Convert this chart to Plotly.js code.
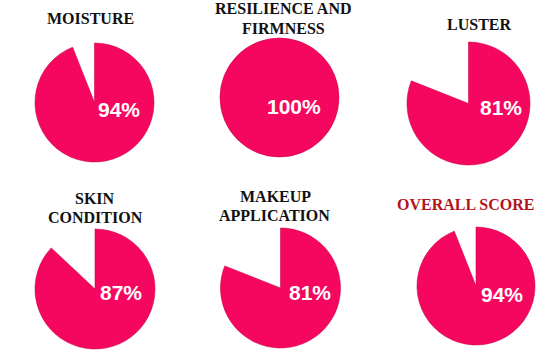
<!DOCTYPE html>
<html>
<head>
<meta charset="utf-8">
<script src="https://cdn.plot.ly/plotly-3.0.1.min.js"></script>
<style>html,body{margin:0;padding:0;background:#fff;}#chart{width:554px;height:363px;}</style>
</head>
<body>
<div id="chart"></div>
<script>
// ---- data ----
const categories = ['MOISTURE', 'RESILIENCE AND FIRMNESS', 'LUSTER', 'SKIN CONDITION', 'MAKEUP APPLICATION', 'OVERALL SCORE'];
const titleLines = [['MOISTURE'], ['RESILIENCE AND', 'FIRMNESS'], ['LUSTER'], ['SKIN', 'CONDITION'], ['MAKEUP', 'APPLICATION'], ['OVERALL SCORE']];
const scores = [94, 100, 81, 87, 81, 94];
const valueLabels = ['94%', '100%', '81%', '87%', '81%', '94%'];

// ---- layout (pixel geometry) ----
const W = 554, H = 363;
const pies = [
  {cx: 94.5, cy: 102.5, r: 59.5},
  {cx: 279.5, cy: 97.5, r: 59.5},
  {cx: 468.5, cy: 103.5, r: 61.5},
  {cx: 95, cy: 289, r: 60},
  {cx: 280.5, cy: 288, r: 60},
  {cx: 476, cy: 286, r: 59}
];
const labelPos = [[118.7, 110], [294, 106.5], [501.3, 107.5], [121, 292.5], [310, 292.5], [501.7, 294.8]];
const titlePos = [
  [[90, 19]],
  [[283.3, 8.7], [283.3, 28.3]],
  [[479.3, 24]],
  [[95, 198.3], [95.3, 217.3]],
  [[275.8, 196], [274.2, 215]],
  [[465.8, 204]]
];
const titleColors = ['#111', '#111', '#111', '#111', '#111', '#B3141B'];
const PINK = '#F5075F';

const px = x => x / W;
const py = y => 1 - y / H;

const traces = scores.map((v, i) => {
  const p = pies[i];
  return {
    type: 'pie',
    values: [v, 100 - v],
    labels: [categories[i], 'rest'],
    sort: false,
    direction: 'clockwise',
    rotation: 0,
    textinfo: 'none',
    hoverinfo: 'none',
    showlegend: false,
    marker: {colors: [PINK, 'rgba(0,0,0,0)'], line: {color: ['rgba(200,0,70,0.55)', 'rgba(0,0,0,0)'], width: [1, 0]}},
    domain: {x: [px(p.cx - p.r), px(p.cx + p.r)], y: [py(p.cy + p.r), py(p.cy - p.r)]}
  };
});

const annotations = [];
scores.forEach((v, i) => {
  annotations.push({
    x: px(labelPos[i][0]), y: py(labelPos[i][1]), xref: 'paper', yref: 'paper',
    text: '<b>' + valueLabels[i] + '</b>', showarrow: false, xanchor: 'center', yanchor: 'middle',
    font: {family: 'Liberation Sans, Arial, sans-serif', size: 21, color: '#fff'}
  });
  titleLines[i].forEach((line, j) => {
    annotations.push({
      x: px(titlePos[i][j][0]), y: py(titlePos[i][j][1]), xref: 'paper', yref: 'paper',
      text: '<b>' + line + '</b>', showarrow: false, xanchor: 'center', yanchor: 'middle',
      font: {family: 'Liberation Serif, Times New Roman, serif', size: 16, color: titleColors[i]}
    });
  });
});

Plotly.newPlot('chart', traces, {
  width: W, height: H,
  margin: {l: 0, r: 0, t: 0, b: 0},
  paper_bgcolor: '#fff', plot_bgcolor: '#fff',
  annotations: annotations
}, {staticPlot: true, displayModeBar: false});
</script>
</body>
</html>
